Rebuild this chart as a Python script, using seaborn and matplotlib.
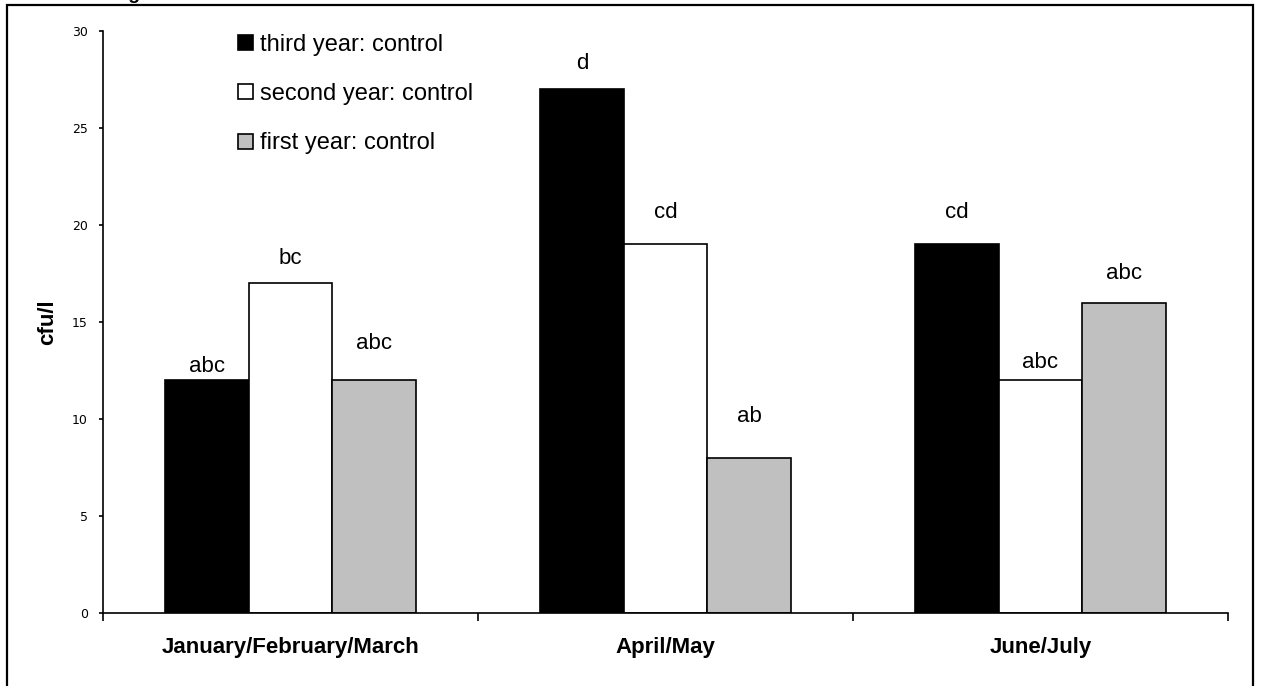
import matplotlib
matplotlib.use("Agg")
import matplotlib.pyplot as plt
import matplotlib.patches as mpatches
import seaborn as sns
import pandas as pd

# data
periods = ["January/February/March", "April/May", "June/July"]
series = ["third year: control", "second year: control", "first year: control"]
third_year = [12, 27, 19]
second_year = [17, 19, 12]
first_year = [12, 8, 16]
letters_third = ["abc", "d", "cd"]
letters_second = ["bc", "cd", "abc"]
letters_first = ["abc", "ab", "abc"]
y_ticks = [0, 5, 10, 15, 20, 25, 30]

# gap (pixels) between bar top and letter baseline, as placed in the original
letter_gap = {series[0]: [8, 20, 26], series[1]: [19, 26, 12], series[2]: [31, 36, 24]}

df = pd.DataFrame({
    "period": periods * 3,
    "series": [series[0]] * 3 + [series[1]] * 3 + [series[2]] * 3,
    "value": third_year + second_year + first_year,
    "letter": letters_third + letters_second + letters_first,
})

sns.set_style("white")
plt.rcParams["font.family"] = ["Liberation Sans", "DejaVu Sans"]
plt.rcParams["text.color"] = "black"
plt.rcParams["axes.labelcolor"] = "black"
plt.rcParams["xtick.color"] = "black"
plt.rcParams["ytick.color"] = "black"

fig = plt.figure(figsize=(12.62, 6.86), dpi=100)
ax = fig.add_axes([103 / 1262, 1 - 613 / 686, (1228 - 103) / 1262, (613 - 31) / 686])

palette = {series[0]: "black", series[1]: "white", series[2]: "#c0c0c0"}
sns.barplot(data=df, x="period", y="value", hue="series", hue_order=series,
            order=periods, palette=palette, edgecolor="black", linewidth=1.2,
            width=0.668, saturation=1, ax=ax)

# significance letters above each bar
for cont, s in zip(ax.containers, series):
    sub = df[df["series"] == s].set_index("period").loc[periods]
    for bar, letter, gap in zip(cont, sub["letter"], letter_gap[s]):
        ax.annotate(letter, (bar.get_x() + bar.get_width() / 2, bar.get_height()),
                    xytext=(0, gap), textcoords="offset pixels",
                    ha="center", va="baseline", fontsize=16)

ax.set_xlim(-0.5, 2.5)
ax.set_ylim(0, 30)
ax.set_yticks(y_ticks)
ax.tick_params(axis="y", labelsize=9, length=3, width=1.2, direction="out", left=True, pad=8)
for lab in ax.get_yticklabels():
    lab.set_family("DejaVu Sans")

ax.set_xticks([0, 1, 2])
ax.set_xticklabels(periods, fontsize=16, fontweight="bold")
ax.tick_params(axis="x", length=0, pad=17)
ax.set_xticks([-0.5, 0.5, 1.5, 2.5], minor=True)
ax.tick_params(axis="x", which="minor", length=6, width=1.2, direction="out", bottom=True)

ax.set_xlabel("")
ax.set_ylabel("cfu/l", fontsize=16, fontweight="bold", labelpad=10)

sns.despine(ax=ax)
for sp in ["left", "bottom"]:
    ax.spines[sp].set_color("black")
    ax.spines[sp].set_linewidth(1.2)

leg = ax.legend(loc="upper left", bbox_to_anchor=(0.112, 1.011), frameon=False,
                fontsize=17, handlelength=0.6, handleheight=0.6, handletextpad=0.3,
                labelspacing=1.15, borderaxespad=0)

# outer frame around the figure and the cut-off caption above it
fig.patches.append(mpatches.Rectangle((7 / 1262, -0.02), (1253 - 7) / 1262, 1.02 - 5 / 686,
                                      transform=fig.transFigure, fill=False,
                                      edgecolor="black", linewidth=1.6))
fig.text(112 / 1262, 1 + 1 / 686, "Figure", fontsize=14, fontweight="bold", va="baseline")

fig.savefig("out.png", dpi=100)
